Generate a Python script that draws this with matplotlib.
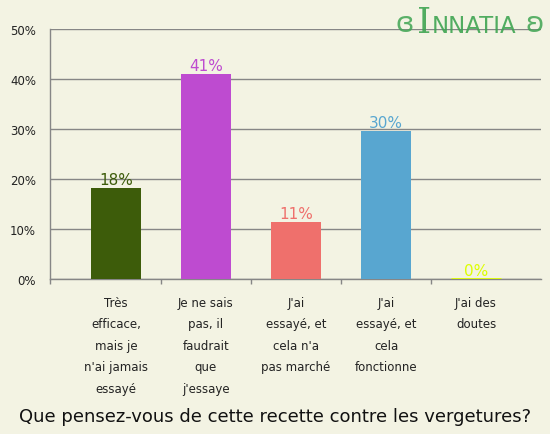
import matplotlib
matplotlib.use("Agg")
import matplotlib.pyplot as plt

# données du sondage
categories = [
    "Très\nefficace,\nmais je\nn'ai jamais\nessayé",
    "Je ne sais\npas, il\nfaudrait\nque\nj'essaye",
    "J'ai\nessayé, et\ncela n'a\npas marché",
    "J'ai\nessayé, et\ncela\nfonctionne",
    "J'ai des\ndoutes",
]
pourcentages = [18.2, 41.0, 11.4, 29.6, 0.0]
etiquettes = ["18%", "41%", "11%", "30%", "0%"]
couleurs = ["#3d5c0a", "#be4bd0", "#ef706c", "#58a6d0", "#ddff00"]
y_ticks = [0, 10, 20, 30, 40, 50]

fond = "#f3f3e3"
gris = "#868686"
vert_logo = "#3fa552"

fig = plt.figure(figsize=(5.5, 4.35), dpi=100, facecolor=fond)
ax = fig.add_axes([50 / 550, 1 - 280 / 435, 491 / 550, 250 / 435], facecolor=fond)

x = list(range(len(categories)))
ax.bar(x, pourcentages, width=0.556, color=couleurs, zorder=3)
# barre à 0% : juste un trait
ax.hlines(0, x[-1] - 0.278, x[-1] + 0.278, color=couleurs[-1], lw=2, zorder=4)

for xi, v, lbl, c in zip(x, pourcentages, etiquettes, couleurs):
    ax.annotate(lbl, (xi, v), xytext=(0, 1), textcoords="offset points",
                ha="center", va="bottom", color=c, fontsize=11)

ax.set_xlim(-0.733, 4.722)
ax.set_ylim(0, 50)
ax.set_yticks(y_ticks)
ax.set_yticklabels([f"{t}%" for t in y_ticks], fontsize=8.5, color="#222222")
ax.yaxis.grid(True, color=gris, lw=1.0, zorder=1)
ax.tick_params(axis="y", length=0, pad=10)
ax.set_yticks([0], minor=True)
ax.tick_params(axis="y", which="minor", length=3.6, width=1, color=gris)

ax.set_xticks(x)
ax.set_xticklabels(categories, fontsize=8.5, color="#222222", linespacing=1.85, va="top")
ax.tick_params(axis="x", length=0, pad=12)
ax.set_xticks([-0.733, 0.5, 1.5, 2.5, 3.5], minor=True)
ax.tick_params(axis="x", which="minor", length=3.6, width=1, color=gris)

for s in ["top", "right"]:
    ax.spines[s].set_visible(False)
for s in ["left", "bottom"]:
    ax.spines[s].set_color(gris)
    ax.spines[s].set_linewidth(1.0)

fig.text(0.5, 1 - 417 / 435, "Que pensez-vous de cette recette contre les vergetures?",
         ha="center", va="center", fontsize=13, color="#111111")

# logo
fig.text(405 / 550, 1 - 24 / 435, "ɞ", ha="center", va="center",
         fontsize=20, color=vert_logo, alpha=0.85)
fig.text(424 / 550, 1 - 33 / 435, "I", ha="center", va="baseline",
         fontsize=26, color=vert_logo, family="DejaVu Serif", alpha=0.9)
fig.text(432 / 550, 1 - 33 / 435, "NNATIA", ha="left", va="baseline",
         fontsize=16.5, color=vert_logo, family="Liberation Sans Narrow", alpha=0.9)
fig.text(535 / 550, 1 - 24 / 435, "ʚ", ha="center", va="center",
         fontsize=20, color=vert_logo, alpha=0.85)

fig.savefig("out.png", dpi=100, facecolor=fond)
